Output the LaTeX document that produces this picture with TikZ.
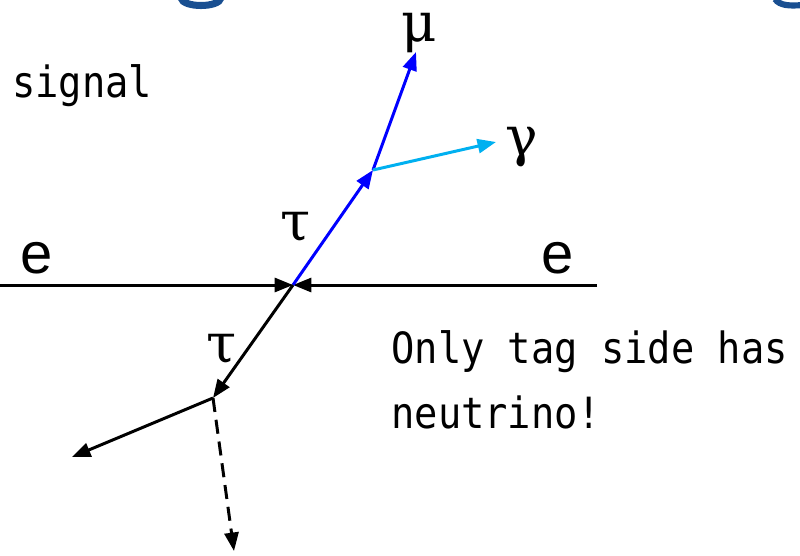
\documentclass[tikz,border=0pt]{standalone}
\usepackage{fontspec}
\usetikzlibrary{arrows.meta}
\newfontfamily\monofont[FakeStretch=0.9]{DejaVu Sans Mono}
\newfontfamily\greekfont{DejaVu Serif}
\newfontfamily\beamfont{Liberation Sans}
\definecolor{taublue}{rgb}{0, 0, 1}
\definecolor{gammacyan}{rgb}{0, 0.69, 0.94}
\definecolor{titleblue}{rgb}{0.10, 0.31, 0.57}
\tikzstyle{track} = [line width=1.7pt, -{Triangle[length=10.5pt,width=8pt]}]
\tikzstyle{greek} = [inner sep=0, anchor=base, text height=1.1ex, text depth=0.5ex, font=\greekfont\fontsize{31}{31}\selectfont]
\tikzstyle{beam} = [inner sep=0, anchor=base, font=\beamfont\fontsize{33}{33}\selectfont]
\tikzstyle{remark} = [inner sep=0, anchor=base west, font=\monofont\fontsize{24.5}{24.5}\selectfont]

\begin{document}
\begin{tikzpicture}[x=0.02cm, y=-0.02cm]

    \useasboundingbox (0,0) rectangle (800,555);

    % cut-off title letters at the top edge
    \begin{scope}
    \clip (0,0) rectangle (800,555);
    \draw[titleblue, line width=4pt] (181,-2) .. controls (183,8) and (219,8) .. (221,-2);
    \draw[titleblue, line width=3.5pt] (775,-1) .. controls (780,6) and (790,6) .. (803,5);
    \end{scope}

    \node (sig) at (12,97) [remark] {signal};

    % Beams: e + e
    \coordinate (V) at (293,285);
    \coordinate (eleft) at (0,285);
    \coordinate (eright) at (597,285);
    \draw[track] (eleft) -- (V);
    \draw[track] (eright) -- (V);
    \node (e1) at (37,273) [beam] {e};
    \node (e2) at (558,273) [beam] {e};

    % Signal side: tau -> mu gamma
    \coordinate (taudec) at (373,170);
    \coordinate (muend) at (416,52);
    \coordinate (gamend) at (496,142);
    \draw[track, taublue] (V) -- (taudec);
    \draw[track, taublue] (taudec) -- (muend);
    \draw[track, gammacyan] (taudec) -- (gamend);
    \node (tau1) at (296,240) [greek] {τ};
    \node (mu) at (419,41) [greek] {μ};
    \node (gam) at (522,155) [greek] {γ};

    % Tag side: tau -> track + neutrino
    \coordinate (tagdec) at (213,398);
    \coordinate (trkend) at (72,457);
    \coordinate (nuend) at (234,551);
    \draw[track] (V) -- (tagdec);
    \draw[track] (tagdec) -- (trkend);
    \draw[track, dash pattern=on 8pt off 4.5pt] (tagdec) -- (nuend);
    \node (tau2) at (222,362) [greek] {τ};

    \node (note1) at (391,363) [remark] {Only tag side has};
    \node (note2) at (391,428) [remark] {neutrino!};

\end{tikzpicture}
\end{document}
